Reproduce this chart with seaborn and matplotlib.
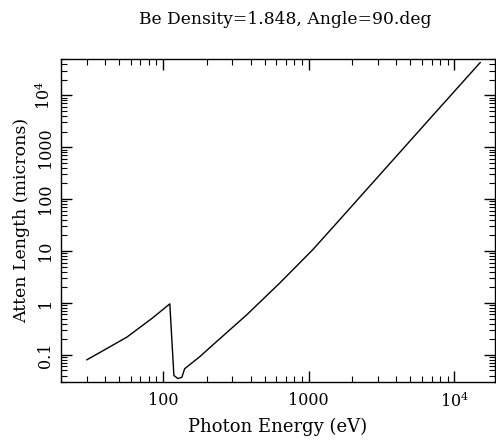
import numpy as np
import pandas as pd
import matplotlib
matplotlib.use("Agg")
import matplotlib.pyplot as plt
import matplotlib.ticker as mticker
import seaborn as sns

# ---- data (Be attenuation length) ----
energy_ev = [30, 38.8, 56.7, 85.4, 111.6, 119, 127, 135, 141, 179, 220,
             376, 632, 1064, 1600, 2500, 7060, 15070]
atten_um = [0.08, 0.12, 0.22, 0.52, 0.96, 0.04, 0.035, 0.037, 0.054, 0.092,
            0.155, 0.59, 2.4, 10.5, 37.6, 153, 4000, 43000]

x_ticks = [100, 1000, 10000]
x_tick_labels = ["100", "1000", r"$10^4$"]
y_ticks = [0.1, 1, 10, 100, 1000, 10000]
y_tick_labels = ["0.1", "1", "10", "100", "1000", r"$10^4$"]

df = pd.DataFrame({"Energy": energy_ev, "Atten": atten_um})

sns.set_theme(style="ticks")
plt.rcParams.update({
    "font.family": ["DejaVu Serif"],
    "mathtext.fontset": "dejavuserif",
    "font.size": 11,
    "text.color": "black",
    "axes.labelcolor": "black",
    "axes.linewidth": 1.0,
    "xtick.direction": "in",
    "ytick.direction": "in",
    "xtick.top": True,
    "ytick.right": True,
})

fig = plt.figure(figsize=(4.96, 4.44), dpi=100)
ax = fig.add_axes([61 / 496, 1 - 382 / 444, 434 / 496, 323 / 444])

sns.lineplot(data=df, x="Energy", y="Atten", ax=ax, color="black",
             linewidth=1.0, sort=False, estimator=None)

ax.set_xscale("log")
ax.set_yscale("log")
ax.set_xlim(20, 19000)
ax.set_ylim(0.03, 50000)

ax.set_xticks(x_ticks)
ax.set_xticklabels(x_tick_labels)
ax.set_yticks(y_ticks)
ax.set_yticklabels(y_tick_labels, rotation=90, va="center")
ax.xaxis.set_minor_locator(mticker.LogLocator(base=10, subs=np.arange(2, 10)))
ax.yaxis.set_minor_locator(mticker.LogLocator(base=10, subs=np.arange(2, 10)))
ax.xaxis.set_minor_formatter(mticker.NullFormatter())
ax.yaxis.set_minor_formatter(mticker.NullFormatter())

ax.tick_params(which="major", length=8, width=1.0, colors="black",
               labelcolor="black", labelsize=11.5)
ax.tick_params(axis="x", which="major", pad=7)
ax.tick_params(axis="y", which="major", pad=5)
ax.tick_params(which="minor", length=4, width=0.8, colors="black")
for s in ax.spines.values():
    s.set_color("black")

ax.set_xlabel("Photon Energy (eV)", fontsize=13, labelpad=5, color="black")
ax.set_ylabel("Atten Length (microns)", fontsize=12.5, labelpad=3, color="black")
fig.text(285 / 496, 1 - 20 / 444, "Be Density=1.848, Angle=90.deg",
         ha="center", va="center", fontsize=12.3, color="black")

fig.savefig("out.png", dpi=100)
